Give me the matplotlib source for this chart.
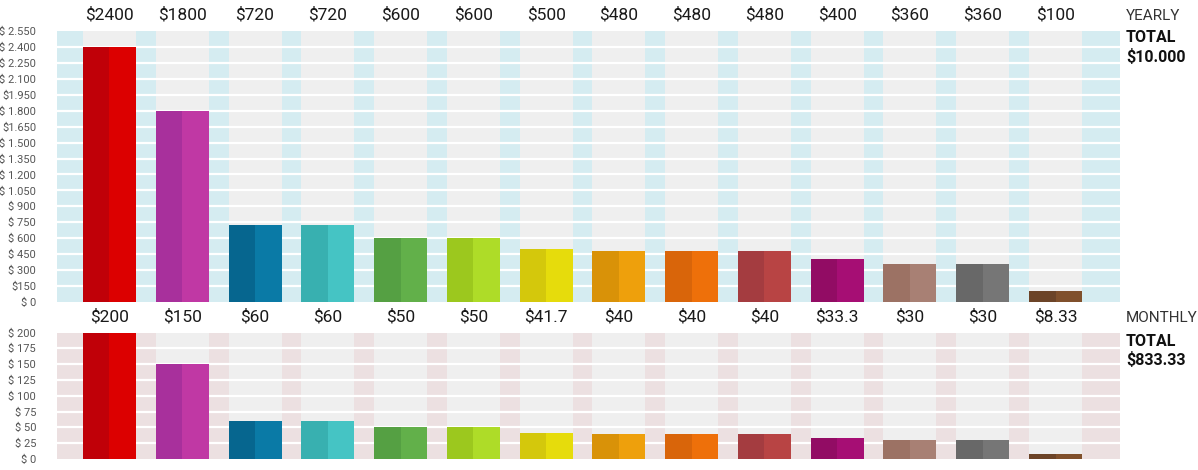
import numpy as np
import matplotlib
matplotlib.use("Agg")
import matplotlib.pyplot as plt

plt.rcParams['font.family'] = ['Roboto', 'DejaVu Sans']

# values shown above the bars
yearly = [2400, 1800, 720, 720, 600, 600, 500, 480, 480, 480, 400, 360, 360, 100]
monthly = [200, 150, 60, 60, 50, 50, 41.7, 40, 40, 40, 33.3, 30, 30, 8.33]
yearly_labels = ["$2400", "$1800", "$720", "$720", "$600", "$600", "$500",
                 "$480", "$480", "$480", "$400", "$360", "$360", "$100"]
monthly_labels = ["$200", "$150", "$60", "$60", "$50", "$50", "$41.7",
                  "$40", "$40", "$40", "$33.3", "$30", "$30", "$8.33"]

# two tones per bar: darker left half, lighter right half
dark_colors = ["#c00008", "#a8309c", "#06668f", "#38b0b0", "#55a043", "#9cc81e", "#d4c80c",
               "#d99208", "#d9650a", "#a43c40", "#920c64", "#9c7264", "#686868", "#6c4428"]
light_colors = ["#dc0000", "#c038a4", "#0a7aa6", "#45c4c4", "#62b04a", "#aedc28", "#e6dc0c",
                "#eea00c", "#ee700a", "#b84444", "#a60e74", "#a88074", "#767676", "#80502c"]

yearly_ticks = [0, 150, 300, 450, 600, 750, 900, 1050, 1200, 1350, 1500, 1650,
                1800, 1950, 2100, 2250, 2400, 2550]
yearly_ticklabels = ["$ 0", "$150", "$ 300", "$ 450", "$ 600", "$ 750", "$ 900", "$ 1.050",
                     "$ 1.200", "$ 1.350", "$ 1.500", "$1.650", "$ 1.800", "$1.950",
                     "$ 2.100", "$ 2.250", "$ 2.400", "$ 2.550"]
monthly_ticks = [0, 25, 50, 75, 100, 125, 150, 175, 200]
monthly_ticklabels = ["$ 0", "$ 25", "$ 50", "$ 75", "$ 100", "$ 125", "$ 150", "$ 175", "$ 200"]

W, H = 1198, 470
fig = plt.figure(figsize=(W / 100, H / 100), dpi=100)

bar_w = 0.728
x = np.arange(len(yearly))


def draw_panel(rect, values, labels, ticks, ticklabels, gap_color):
    ax = fig.add_axes(rect)
    ax.set_facecolor(gap_color)
    ax.set_xlim(-0.721, len(values) - 1 + 0.886)
    ax.set_ylim(0, ticks[-1])
    # grey column behind every bar
    for xi in x:
        ax.axvspan(xi - bar_w / 2, xi + bar_w / 2, color="#efefef", zorder=1, lw=0)
    ax.hlines(ticks[1:-1], -1, len(values) + 1, colors="white", lw=1.6, zorder=1.5)
    ax.bar(x - bar_w / 4, values, width=bar_w / 2, color=dark_colors, zorder=2, lw=0)
    ax.bar(x + bar_w / 4, values, width=bar_w / 2, color=light_colors, zorder=2, lw=0)
    for xi, lab in zip(x, labels):
        ax.annotate(lab, xy=(xi, 1), xycoords=("data", "axes fraction"),
                    xytext=(0, 11.5), textcoords="offset points",
                    ha="center", va="center", fontsize=12.5, color="#1a1a1a")
    ax.set_xticks([])
    ax.set_yticks(ticks)
    ax.set_yticklabels(ticklabels, fontsize=8, color="#555555")
    ax.tick_params(axis="y", length=0, pad=15)
    for s in ax.spines.values():
        s.set_visible(False)
    return ax


ax1 = draw_panel([57 / W, 1 - 302 / H, 1063 / W, 271 / H], yearly, yearly_labels,
                 yearly_ticks, yearly_ticklabels, "#d5ecf1")
ax2 = draw_panel([57 / W, 1 - 459 / H, 1063 / W, 126.5 / H], monthly, monthly_labels,
                 monthly_ticks, monthly_ticklabels, "#ece0e1")

fig.text(1126 / W, 1 - 15.5 / H, "YEARLY", fontsize=11, fontweight="normal",
         color="#333333", va="center", ha="left")
fig.text(1126 / W, 1 - 37.5 / H, "TOTAL", fontsize=11.5, fontweight="bold",
         color="#111111", va="center", ha="left")
fig.text(1126 / W, 1 - 57 / H, "$10.000", fontsize=11.5, fontweight="bold",
         color="#111111", va="center", ha="left")
fig.text(1126 / W, 1 - 318 / H, "MONTHLY", fontsize=11, fontweight="normal",
         color="#333333", va="center", ha="left")
fig.text(1126 / W, 1 - 341 / H, "TOTAL", fontsize=11.5, fontweight="bold",
         color="#111111", va="center", ha="left")
fig.text(1126 / W, 1 - 360 / H, "$833.33", fontsize=11.5, fontweight="bold",
         color="#111111", va="center", ha="left")

fig.savefig("out.png", dpi=100)
